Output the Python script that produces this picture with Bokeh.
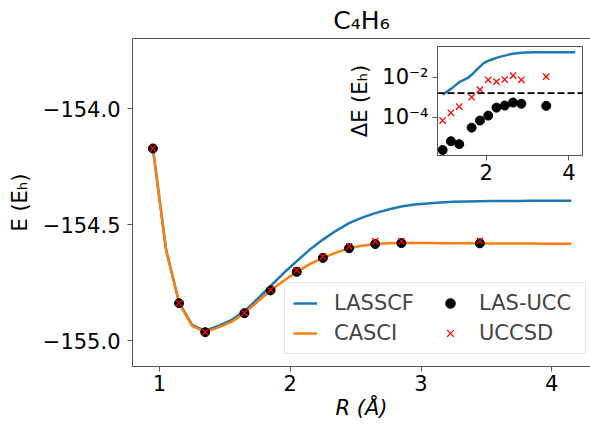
from bokeh.plotting import figure
from bokeh.models import (Range1d, FixedTicker, CustomJSTickFormatter, LinearAxis,
                          Legend, LegendItem, Span)
from bokeh.embed import file_html
from bokeh.resources import INLINE

# ---------------- data ----------------
R_curve = [0.95, 1.05, 1.15, 1.25, 1.35, 1.45, 1.55, 1.65, 1.75, 1.85, 1.95, 2.05,
           2.15, 2.25, 2.35, 2.45, 2.55, 2.65, 2.75, 2.85, 2.95, 3.05, 3.15, 3.25,
           3.35, 3.45, 3.55, 3.65, 3.75, 3.85, 3.95, 4.05, 4.15]
E_lasscf = [-154.170, -154.605, -154.835, -154.932, -154.957, -154.936, -154.911,
            -154.872, -154.820, -154.764, -154.708, -154.657, -154.607, -154.564,
            -154.526, -154.493, -154.469, -154.450, -154.434, -154.421, -154.413,
            -154.408, -154.404, -154.401, -154.400, -154.399, -154.398, -154.397,
            -154.397, -154.396, -154.396, -154.396, -154.396]
E_casci = [-154.171, -154.607, -154.838, -154.936, -154.963, -154.942, -154.919,
           -154.881, -154.832, -154.783, -154.741, -154.703, -154.670, -154.643,
           -154.620, -154.601, -154.590, -154.583, -154.580, -154.579, -154.579,
           -154.579, -154.580, -154.580, -154.580, -154.580, -154.581, -154.581,
           -154.581, -154.581, -154.582, -154.582, -154.582]

R_pts = [0.95, 1.15, 1.35, 1.65, 1.85, 2.05, 2.25, 2.45, 2.65, 2.85, 3.45]
E_lasucc = [-154.171, -154.838, -154.963, -154.881, -154.783, -154.703, -154.643,
            -154.601, -154.583, -154.579, -154.580]
E_uccsd = [-154.171, -154.838, -154.963, -154.880, -154.781, -154.696, -154.637,
           -154.593, -154.571, -154.572, -154.569]

# inset: errors relative to CASCI (Eh)
dE_lasscf = [1.32e-3, 1.9e-3, 2.6e-3, 3.8e-3, 5.6e-3, 7.1e-3, 8.9e-3, 1.32e-2,
             2.14e-2, 3.39e-2, 5.25e-2, 6.6e-2, 7.9e-2, 9.3e-2, 0.107, 0.120,
             0.135, 0.148, 0.158, 0.166, 0.170, 0.174, 0.175, 0.176, 0.177, 0.177,
             0.178, 0.178, 0.178, 0.178, 0.178, 0.178, 0.178]
dE_lasucc = [2.3e-6, 6.3e-6, 4.5e-6, 3.0e-5, 6.8e-5, 1.2e-4, 3.0e-4, 3.8e-4,
             5.4e-4, 4.7e-4, 3.7e-4]
dE_uccsd = [6.8e-5, 1.66e-4, 3.4e-4, 1.0e-3, 2.4e-3, 7.4e-3, 6.0e-3, 7.6e-3,
            1.2e-2, 7.4e-3, 1.07e-2]
chem_acc = 1.6e-3

main_xticks = [1, 2, 3, 4]
main_yticks = [-155.0, -154.5, -154.0]
inset_xticks = [2, 4]
inset_yticks = [1e-4, 1e-2]

# ---------------- styling ----------------
FONT = "DejaVu Sans"
FS = "21px"
BLUE = "#1f77b4"
ORANGE = "#ff7f0e"
SPINE = "#555555"


def style_axis(ax):
    ax.axis_line_color = SPINE
    ax.axis_line_width = 1
    ax.major_tick_line_color = SPINE
    ax.major_tick_out = 5
    ax.major_tick_in = 0
    ax.minor_tick_line_color = None
    ax.major_label_text_font = FONT
    ax.major_label_text_font_size = FS
    ax.major_label_text_color = "black"
    ax.axis_label_text_font = FONT
    ax.axis_label_text_font_size = FS
    ax.axis_label_text_font_style = "normal"
    ax.axis_label_text_color = "black"


p = figure(width=590, height=426, x_range=Range1d(0.794, 4.296),
           y_range=Range1d(-155.111, -153.697), output_backend="svg",
           toolbar_location=None, min_border_left=132, min_border_right=0,
           min_border_top=36, min_border_bottom=60, title="C\u2084H\u2086")
p.outline_line_color = None
p.xgrid.visible = False
p.ygrid.visible = False
p.background_fill_color = "white"
p.border_fill_color = "white"
p.title.text_font = FONT
p.title.text_font_size = "25px"
p.title.text_font_style = "normal"
p.title.text_color = "black"
p.title.align = "center"
p.title.standoff = 7

p.xaxis.ticker = FixedTicker(ticks=main_xticks)
p.yaxis.ticker = FixedTicker(ticks=main_yticks)
p.yaxis.formatter = CustomJSTickFormatter(
    code="return (tick < 0 ? '\u2212' : '') + Math.abs(tick).toFixed(1);")
style_axis(p.xaxis[0])
style_axis(p.yaxis[0])
p.xaxis.axis_label = "R (\u00c5)"
p.xaxis.axis_label_text_font_style = "italic"
p.yaxis.axis_label = "E (E\u2095)"
p.xaxis.major_label_standoff = 3
p.yaxis.major_label_standoff = 7
p.xaxis.axis_label_standoff = 2
p.yaxis.axis_label_standoff = 8

top_ax = LinearAxis(ticker=FixedTicker(ticks=[]), major_label_text_font_size="0px",
                    major_tick_line_color=None, minor_tick_line_color=None,
                    axis_line_color=SPINE, major_label_standoff=0,
                    major_tick_out=0, major_tick_in=0)
p.add_layout(top_ax, "above")

r_las = p.line(R_curve, E_lasscf, line_color=BLUE, line_width=2.5)
r_cas = p.line(R_curve, E_casci, line_color=ORANGE, line_width=2.5)
r_ucc = p.scatter(R_pts, E_lasucc, marker="circle", size=9, fill_color="black",
                  line_color="black")
r_sd = p.scatter(R_pts, E_uccsd, marker="x", size=9, line_color="red",
                 line_width=1.3)

legend = Legend(items=[LegendItem(label="LASSCF", renderers=[r_las]),
                       LegendItem(label="CASCI", renderers=[r_cas]),
                       LegendItem(label="LAS-UCC", renderers=[r_ucc]),
                       LegendItem(label="UCCSD", renderers=[r_sd])],
                ncols=2, location=(152, 12))
legend.label_text_font = FONT
legend.label_text_font_size = FS
legend.glyph_width = 24
legend.glyph_height = 24
legend.label_height = 24
legend.label_standoff = 17
legend.label_width = 98
legend.spacing = 6
legend.padding = 8
legend.margin = 0
legend.border_line_color = "#cccccc"
legend.border_line_width = 1
legend.background_fill_color = "white"
legend.background_fill_alpha = 0.8
p.add_layout(legend)

# ---------------- inset (separate root, placed over the main figure) ----------------
ins = figure(width=242, height=155, x_range=Range1d(0.826, 4.326),
             y_range=Range1d(1.216e-6, 0.343), y_axis_type="log",
             output_backend="svg", toolbar_location=None,
             min_border_left=90, min_border_right=5, min_border_top=6,
             min_border_bottom=40,
             styles={"position": "absolute", "left": "345px", "top": "40px"})
ins.border_fill_color = None
ins.background_fill_color = "white"
ins.outline_line_color = SPINE
ins.xgrid.visible = False
ins.ygrid.visible = False
ins.xaxis.ticker = FixedTicker(ticks=inset_xticks)
ins.yaxis.ticker = FixedTicker(ticks=inset_yticks)
ins.yaxis.formatter = CustomJSTickFormatter(code="""
const e = Math.round(Math.log10(tick));
const sup = {'-': '\u207b', '0': '\u2070', '1': '\u00b9', '2': '\u00b2', '3': '\u00b3',
             '4': '\u2074', '5': '\u2075', '6': '\u2076', '7': '\u2077', '8': '\u2078', '9': '\u2079'};
return '10' + String(e).split('').map(c => sup[c]).join('');
""")
style_axis(ins.xaxis[0])
style_axis(ins.yaxis[0])
ins.yaxis.axis_label = "\u0394E (E\u2095)"
ins.xaxis.major_label_standoff = 3
ins.yaxis.major_label_standoff = 4
ins.yaxis.axis_label_standoff = 7

ins.add_layout(Span(location=chem_acc, dimension="width", line_color="black",
                    line_dash="7 3", line_width=1.6))
ins.line(R_curve, dE_lasscf, line_color=BLUE, line_width=2.5)
ins.scatter(R_pts, dE_lasucc, marker="circle", size=9, fill_color="black",
            line_color="black")
ins.scatter(R_pts, dE_uccsd, marker="x", size=9, line_color="red", line_width=1.3)

open("out.html", "w").write(file_html([p, ins], INLINE))
